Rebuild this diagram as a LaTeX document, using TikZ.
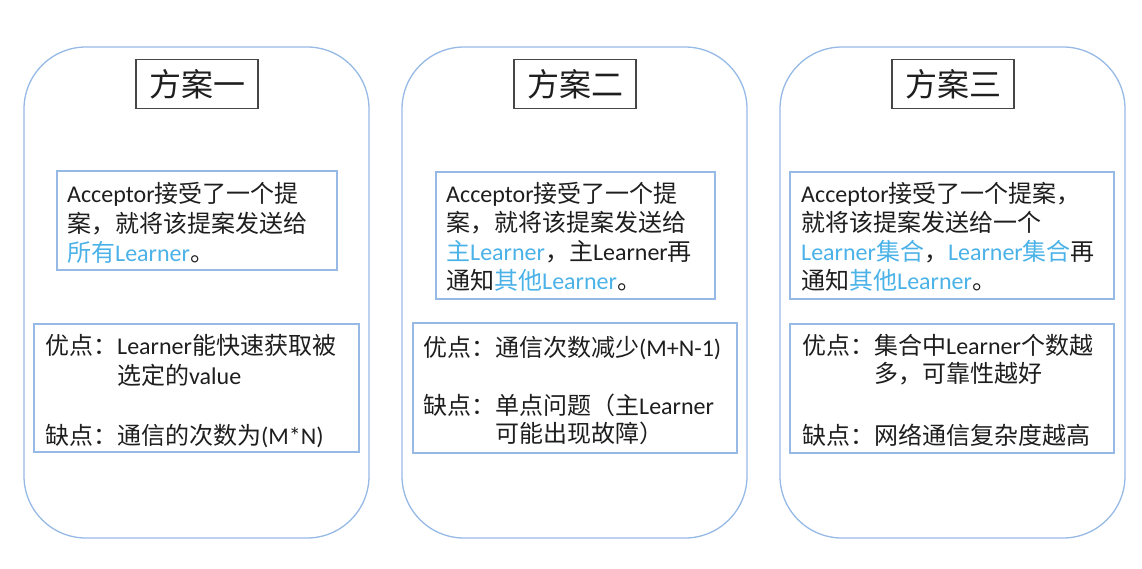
\documentclass[tikz,border=0pt]{standalone}
\usepackage{fontspec}
\setmainfont{Noto Sans CJK SC}
\newfontfamily\latfont{Carlito}
\newcommand{\en}[1]{{\latfont #1}}
\definecolor{panelblue}{RGB}{150,185,230}
\definecolor{boxblue}{RGB}{150,185,230}
\definecolor{hlblue}{RGB}{75,178,232}
\definecolor{txt}{RGB}{30,30,30}
\definecolor{titlegray}{RGB}{70,70,70}
\newcommand{\hl}[1]{\textcolor{hlblue}{#1}}
\tikzset{
  panel/.style={draw=panelblue, line width=1.3pt, rounded corners=62pt},
  titlebox/.style={draw=titlegray, line width=1.3pt, minimum width=122pt, minimum height=49pt, inner sep=0pt, font=\fontsize{32}{36}\selectfont, text=txt},
  infobox/.style={draw=boxblue, line width=1.3pt},
  ln/.style={anchor=base west, inner sep=0pt, font=\fontsize{24}{30}\selectfont, text=txt},
}
\begin{document}
\begin{tikzpicture}[x=1pt,y=-1pt]
\useasboundingbox (0,0) rectangle (1142,568);
% panels
\draw[panel] (24,47) rectangle (369,538);
\draw[panel] (402,47) rectangle (747,538);
\draw[panel] (780,47) rectangle (1125,538);
% titles
\node[titlebox] (t1) at (197,84) {方案一};
\node[titlebox] (t2) at (575,84) {方案二};
\node[titlebox] (t3) at (953,84) {方案三};
% info boxes
\draw[infobox] (57,171) rectangle (337,270);
\draw[infobox] (436,172) rectangle (715,299);
\draw[infobox] (790,172) rectangle (1114,299);
\draw[infobox] (34,324) rectangle (359,452);
\draw[infobox] (413,323) rectangle (737,453);
\draw[infobox] (790,324) rectangle (1114,453);
% panel 1 text
\node[ln] (a1) at (67,202) {\en{Acceptor}接受了一个提};
\node[ln] (a2) at (67,232) {案，就将该提案发送给};
\node[ln] (a3) at (67,261) {\hl{所有\en{Learner}}。};
\node[ln] (p1a) at (45,354) {优点：\en{Learner}能快速获取被};
\node[ln] (p1b) at (117,384) {选定的\en{value}};
\node[ln] (p1c) at (45,444) {缺点：通信的次数为\en{(M*N)}};
% panel 2 text
\node[ln] (b1) at (446,202) {\en{Acceptor}接受了一个提};
\node[ln] (b2) at (446,231) {案，就将该提案发送给};
\node[ln] (b3) at (446,260) {\hl{主\en{Learner}}，主\en{Learner}再};
\node[ln] (b4) at (446,289) {通知\hl{其他\en{Learner}}。};
\node[ln] (p2a) at (423,356) {优点：通信次数减少\en{(M+N-1)}};
\node[ln] (p2b) at (423,414) {缺点：单点问题（主\en{Learner}};
\node[ln] (p2c) at (495,442) {可能出现故障）};
% panel 3 text
\node[ln] (c1) at (801,202) {\en{Acceptor}接受了一个提案，};
\node[ln] (c2) at (801,231) {就将该提案发送给一个};
\node[ln] (c3) at (801,260) {\hl{\en{Learner}集合}，\hl{\en{Learner}集合}再};
\node[ln] (c4) at (801,289) {通知\hl{其他\en{Learner}}。};
\node[ln] (p3a) at (802,354) {优点：集合中\en{Learner}个数越};
\node[ln] (p3b) at (874,382) {多，可靠性越好};
\node[ln] (p3c) at (802,444) {缺点：网络通信复杂度越高};
\end{tikzpicture}
\end{document}
